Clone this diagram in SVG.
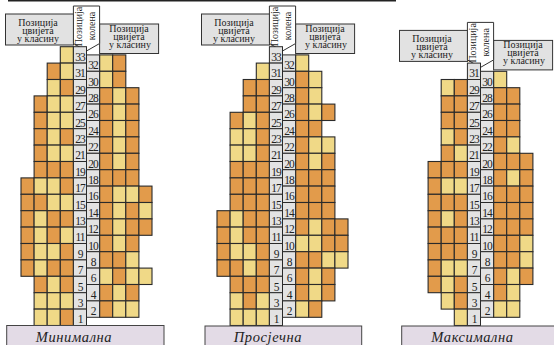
<svg xmlns="http://www.w3.org/2000/svg" xmlns:xlink="http://www.w3.org/1999/xlink" width="554" height="345" viewBox="0 0 554 345">
<style>
.num{font-family:"Liberation Serif",serif;font-size:11.5px;text-anchor:middle;fill:#222;letter-spacing:-1px}
.lbl{font-family:"Liberation Serif",serif;font-size:10px;text-anchor:middle;fill:#222}
.box{fill:#e2e2e2;stroke:#333;stroke-width:1}
.pent{fill:#fff;stroke:#333;stroke-width:1}
.bot{fill:#e3dbe6;stroke:#444;stroke-width:1}
.title{font-family:"Liberation Serif",serif;font-style:italic;font-size:14.5px;text-anchor:middle;fill:#222;letter-spacing:0.6px}
</style>
<defs>
<rect id="o" width="13.1" height="16.4" fill="#e29b4b" stroke="#2a2a2a" stroke-width="1.1"/>
<rect id="y" width="13.1" height="16.4" fill="#f0d987" stroke="#2a2a2a" stroke-width="1.1"/>
<rect id="n" width="13.1" height="16.4" fill="#e3e3e3" stroke="#2a2a2a" stroke-width="1"/>
<g id="hdr">
<rect class="box" x="5.5" y="14" width="68" height="31"/>
<rect class="box" x="99.6" y="24" width="59" height="29.5"/>
<polygon class="pent" points="73.4,6 99.6,6 99.6,43.5 86.5,51 73.4,43.5"/>
<text class="lbl" x="38" y="26">Позиција</text>
<text class="lbl" x="38" y="33.6">цвијета</text>
<text class="lbl" x="38" y="41.5">у класину</text>
<text class="lbl" x="129" y="32">Позиција</text>
<text class="lbl" x="129" y="39.6">цвијета</text>
<text class="lbl" x="130" y="47.5">у класину</text>
<text class="lbl" transform="translate(82.2,26.5) rotate(-90)">Позиција</text>
<text class="lbl" transform="translate(94.5,26) rotate(-90)">колена</text>
</g>
</defs>
<rect x="8" y="0" width="388" height="1.5" fill="#222"/>

<g id="panel-min">
<use xlink:href="#hdr"/>
<g id="cells-min">
<use xlink:href="#y" x="60.3" y="46.7"/>
<use xlink:href="#o" x="47.2" y="63.1"/><use xlink:href="#y" x="60.3" y="63.1"/>
<use xlink:href="#y" x="47.2" y="79.5"/><use xlink:href="#o" x="60.3" y="79.5"/>
<use xlink:href="#o" x="34.1" y="95.9"/><use xlink:href="#y" x="47.2" y="95.9"/><use xlink:href="#y" x="60.3" y="95.9"/>
<use xlink:href="#o" x="34.1" y="112.3"/><use xlink:href="#y" x="47.2" y="112.3"/><use xlink:href="#y" x="60.3" y="112.3"/>
<use xlink:href="#o" x="34.1" y="128.7"/><use xlink:href="#y" x="47.2" y="128.7"/><use xlink:href="#o" x="60.3" y="128.7"/>
<use xlink:href="#o" x="34.1" y="145.1"/><use xlink:href="#y" x="47.2" y="145.1"/><use xlink:href="#y" x="60.3" y="145.1"/>
<use xlink:href="#o" x="34.1" y="161.5"/><use xlink:href="#o" x="47.2" y="161.5"/><use xlink:href="#o" x="60.3" y="161.5"/>
<use xlink:href="#o" x="21" y="177.9"/><use xlink:href="#y" x="34.1" y="177.9"/><use xlink:href="#y" x="47.2" y="177.9"/><use xlink:href="#o" x="60.3" y="177.9"/>
<use xlink:href="#o" x="21" y="194.3"/><use xlink:href="#o" x="34.1" y="194.3"/><use xlink:href="#y" x="47.2" y="194.3"/><use xlink:href="#y" x="60.3" y="194.3"/>
<use xlink:href="#o" x="21" y="210.7"/><use xlink:href="#y" x="34.1" y="210.7"/><use xlink:href="#o" x="47.2" y="210.7"/><use xlink:href="#o" x="60.3" y="210.7"/>
<use xlink:href="#o" x="21" y="227.1"/><use xlink:href="#y" x="34.1" y="227.1"/><use xlink:href="#o" x="47.2" y="227.1"/><use xlink:href="#y" x="60.3" y="227.1"/>
<use xlink:href="#o" x="21" y="243.5"/><use xlink:href="#y" x="34.1" y="243.5"/><use xlink:href="#y" x="47.2" y="243.5"/><use xlink:href="#o" x="60.3" y="243.5"/>
<use xlink:href="#o" x="21" y="259.9"/><use xlink:href="#y" x="34.1" y="259.9"/><use xlink:href="#o" x="47.2" y="259.9"/><use xlink:href="#o" x="60.3" y="259.9"/>
<use xlink:href="#o" x="34.1" y="276.3"/><use xlink:href="#y" x="47.2" y="276.3"/><use xlink:href="#o" x="60.3" y="276.3"/>
<use xlink:href="#y" x="34.1" y="292.7"/><use xlink:href="#y" x="47.2" y="292.7"/><use xlink:href="#y" x="60.3" y="292.7"/>
<use xlink:href="#y" x="34.1" y="309.1"/><use xlink:href="#y" x="47.2" y="309.1"/><use xlink:href="#o" x="60.3" y="309.1"/>

<use xlink:href="#y" x="99.6" y="54.9"/><use xlink:href="#o" x="112.7" y="54.9"/>
<use xlink:href="#y" x="99.6" y="71.3"/><use xlink:href="#o" x="112.7" y="71.3"/>
<use xlink:href="#o" x="99.6" y="87.7"/><use xlink:href="#y" x="112.7" y="87.7"/><use xlink:href="#o" x="125.8" y="87.7"/>
<use xlink:href="#o" x="99.6" y="104.1"/><use xlink:href="#y" x="112.7" y="104.1"/><use xlink:href="#o" x="125.8" y="104.1"/>
<use xlink:href="#o" x="99.6" y="120.5"/><use xlink:href="#y" x="112.7" y="120.5"/><use xlink:href="#o" x="125.8" y="120.5"/>
<use xlink:href="#o" x="99.6" y="136.9"/><use xlink:href="#y" x="112.7" y="136.9"/><use xlink:href="#o" x="125.8" y="136.9"/>
<use xlink:href="#o" x="99.6" y="153.3"/><use xlink:href="#y" x="112.7" y="153.3"/><use xlink:href="#o" x="125.8" y="153.3"/>
<use xlink:href="#o" x="99.6" y="169.7"/><use xlink:href="#o" x="112.7" y="169.7"/><use xlink:href="#o" x="125.8" y="169.7"/>
<use xlink:href="#o" x="99.6" y="186.1"/><use xlink:href="#y" x="112.7" y="186.1"/><use xlink:href="#y" x="125.8" y="186.1"/><use xlink:href="#o" x="138.9" y="186.1"/>
<use xlink:href="#o" x="99.6" y="202.5"/><use xlink:href="#y" x="112.7" y="202.5"/><use xlink:href="#o" x="125.8" y="202.5"/><use xlink:href="#y" x="138.9" y="202.5"/>
<use xlink:href="#o" x="99.6" y="218.9"/><use xlink:href="#y" x="112.7" y="218.9"/><use xlink:href="#o" x="125.8" y="218.9"/><use xlink:href="#o" x="138.9" y="218.9"/>
<use xlink:href="#o" x="99.6" y="235.3"/><use xlink:href="#y" x="112.7" y="235.3"/><use xlink:href="#o" x="125.8" y="235.3"/>
<use xlink:href="#o" x="99.6" y="251.7"/><use xlink:href="#o" x="112.7" y="251.7"/><use xlink:href="#y" x="125.8" y="251.7"/>
<use xlink:href="#y" x="99.6" y="268.1"/><use xlink:href="#o" x="112.7" y="268.1"/><use xlink:href="#y" x="125.8" y="268.1"/><use xlink:href="#y" x="138.9" y="268.1"/>
<use xlink:href="#o" x="99.6" y="284.5"/><use xlink:href="#y" x="112.7" y="284.5"/><use xlink:href="#o" x="125.8" y="284.5"/>
<use xlink:href="#o" x="99.6" y="300.9"/><use xlink:href="#y" x="112.7" y="300.9"/><use xlink:href="#y" x="125.8" y="300.9"/>
</g>
<g id="numcol-min">
<use xlink:href="#n" x="73.4" y="46.7"/><use xlink:href="#n" x="73.4" y="63.1"/><use xlink:href="#n" x="73.4" y="79.5"/><use xlink:href="#n" x="73.4" y="95.9"/><use xlink:href="#n" x="73.4" y="112.3"/><use xlink:href="#n" x="73.4" y="128.7"/><use xlink:href="#n" x="73.4" y="145.1"/><use xlink:href="#n" x="73.4" y="161.5"/><use xlink:href="#n" x="73.4" y="177.9"/><use xlink:href="#n" x="73.4" y="194.3"/><use xlink:href="#n" x="73.4" y="210.7"/><use xlink:href="#n" x="73.4" y="227.1"/><use xlink:href="#n" x="73.4" y="243.5"/><use xlink:href="#n" x="73.4" y="259.9"/><use xlink:href="#n" x="73.4" y="276.3"/><use xlink:href="#n" x="73.4" y="292.7"/><use xlink:href="#n" x="73.4" y="309.1"/>
<use xlink:href="#n" x="86.5" y="54.9"/><use xlink:href="#n" x="86.5" y="71.3"/><use xlink:href="#n" x="86.5" y="87.7"/><use xlink:href="#n" x="86.5" y="104.1"/><use xlink:href="#n" x="86.5" y="120.5"/><use xlink:href="#n" x="86.5" y="136.9"/><use xlink:href="#n" x="86.5" y="153.3"/><use xlink:href="#n" x="86.5" y="169.7"/><use xlink:href="#n" x="86.5" y="186.1"/><use xlink:href="#n" x="86.5" y="202.5"/><use xlink:href="#n" x="86.5" y="218.9"/><use xlink:href="#n" x="86.5" y="235.3"/><use xlink:href="#n" x="86.5" y="251.7"/><use xlink:href="#n" x="86.5" y="268.1"/><use xlink:href="#n" x="86.5" y="284.5"/><use xlink:href="#n" x="86.5" y="300.9"/>
<text class="num" x="80" y="60.9">33</text><text class="num" x="80" y="77.3">31</text><text class="num" x="80" y="93.7">29</text><text class="num" x="80" y="110.1">27</text><text class="num" x="80" y="126.5">25</text><text class="num" x="80" y="142.9">23</text><text class="num" x="80" y="159.3">21</text><text class="num" x="80" y="175.7">19</text><text class="num" x="80" y="192.1">17</text><text class="num" x="80" y="208.5">15</text><text class="num" x="80" y="224.9">13</text><text class="num" x="80" y="241.3">11</text><text class="num" x="80" y="257.7">9</text><text class="num" x="80" y="274.1">7</text><text class="num" x="80" y="290.5">5</text><text class="num" x="80" y="306.9">3</text><text class="num" x="80" y="323.3">1</text>
<text class="num" x="93" y="69.1">32</text><text class="num" x="93" y="85.5">30</text><text class="num" x="93" y="101.9">28</text><text class="num" x="93" y="118.3">26</text><text class="num" x="93" y="134.7">24</text><text class="num" x="93" y="151.1">22</text><text class="num" x="93" y="167.5">20</text><text class="num" x="93" y="183.9">18</text><text class="num" x="93" y="200.3">16</text><text class="num" x="93" y="216.7">14</text><text class="num" x="93" y="233.1">12</text><text class="num" x="93" y="249.5">10</text><text class="num" x="93" y="265.9">8</text><text class="num" x="93" y="282.3">6</text><text class="num" x="93" y="298.7">4</text><text class="num" x="93" y="315.1">2</text>
</g>
<rect class="bot" x="6.7" y="325.5" width="157.3" height="25"/>
<text class="title" x="74" y="341.5">Минимална</text>
</g>

<g id="panel-avg" transform="translate(196,0)">
<use xlink:href="#hdr"/>
<g id="cells-avg">
<use xlink:href="#y" x="60.3" y="63.1"/>
<use xlink:href="#o" x="47.2" y="79.5"/><use xlink:href="#o" x="60.3" y="79.5"/>
<use xlink:href="#o" x="47.2" y="95.9"/><use xlink:href="#o" x="60.3" y="95.9"/>
<use xlink:href="#o" x="34.1" y="112.3"/><use xlink:href="#y" x="47.2" y="112.3"/><use xlink:href="#o" x="60.3" y="112.3"/>
<use xlink:href="#y" x="34.1" y="128.7"/><use xlink:href="#y" x="47.2" y="128.7"/><use xlink:href="#o" x="60.3" y="128.7"/>
<use xlink:href="#y" x="34.1" y="145.1"/><use xlink:href="#y" x="47.2" y="145.1"/><use xlink:href="#o" x="60.3" y="145.1"/>
<use xlink:href="#o" x="34.1" y="161.5"/><use xlink:href="#o" x="47.2" y="161.5"/><use xlink:href="#o" x="60.3" y="161.5"/>
<use xlink:href="#o" x="34.1" y="177.9"/><use xlink:href="#o" x="47.2" y="177.9"/><use xlink:href="#o" x="60.3" y="177.9"/>
<use xlink:href="#o" x="34.1" y="194.3"/><use xlink:href="#o" x="47.2" y="194.3"/><use xlink:href="#o" x="60.3" y="194.3"/>
<use xlink:href="#o" x="21" y="210.7"/><use xlink:href="#y" x="34.1" y="210.7"/><use xlink:href="#o" x="47.2" y="210.7"/><use xlink:href="#o" x="60.3" y="210.7"/>
<use xlink:href="#o" x="21" y="227.1"/><use xlink:href="#y" x="34.1" y="227.1"/><use xlink:href="#o" x="47.2" y="227.1"/><use xlink:href="#o" x="60.3" y="227.1"/>
<use xlink:href="#o" x="21" y="243.5"/><use xlink:href="#y" x="34.1" y="243.5"/><use xlink:href="#y" x="47.2" y="243.5"/><use xlink:href="#o" x="60.3" y="243.5"/>
<use xlink:href="#o" x="21" y="259.9"/><use xlink:href="#o" x="34.1" y="259.9"/><use xlink:href="#y" x="47.2" y="259.9"/><use xlink:href="#o" x="60.3" y="259.9"/>
<use xlink:href="#o" x="34.1" y="276.3"/><use xlink:href="#o" x="47.2" y="276.3"/><use xlink:href="#o" x="60.3" y="276.3"/>
<use xlink:href="#y" x="34.1" y="292.7"/><use xlink:href="#o" x="47.2" y="292.7"/><use xlink:href="#y" x="60.3" y="292.7"/>
<use xlink:href="#y" x="34.1" y="309.1"/><use xlink:href="#y" x="47.2" y="309.1"/><use xlink:href="#y" x="60.3" y="309.1"/>

<use xlink:href="#y" x="99.6" y="54.9"/>
<use xlink:href="#o" x="99.6" y="71.3"/><use xlink:href="#y" x="112.7" y="71.3"/>
<use xlink:href="#o" x="99.6" y="87.7"/><use xlink:href="#y" x="112.7" y="87.7"/>
<use xlink:href="#o" x="99.6" y="104.1"/><use xlink:href="#y" x="112.7" y="104.1"/><use xlink:href="#o" x="125.8" y="104.1"/>
<use xlink:href="#o" x="99.6" y="120.5"/><use xlink:href="#o" x="112.7" y="120.5"/>
<use xlink:href="#o" x="99.6" y="136.9"/><use xlink:href="#y" x="112.7" y="136.9"/><use xlink:href="#y" x="125.8" y="136.9"/>
<use xlink:href="#o" x="99.6" y="153.3"/><use xlink:href="#y" x="112.7" y="153.3"/><use xlink:href="#o" x="125.8" y="153.3"/>
<use xlink:href="#o" x="99.6" y="169.7"/><use xlink:href="#o" x="112.7" y="169.7"/><use xlink:href="#o" x="125.8" y="169.7"/>
<use xlink:href="#o" x="99.6" y="186.1"/><use xlink:href="#o" x="112.7" y="186.1"/><use xlink:href="#o" x="125.8" y="186.1"/>
<use xlink:href="#o" x="99.6" y="202.5"/><use xlink:href="#o" x="112.7" y="202.5"/><use xlink:href="#o" x="125.8" y="202.5"/>
<use xlink:href="#o" x="99.6" y="218.9"/><use xlink:href="#y" x="112.7" y="218.9"/><use xlink:href="#o" x="125.8" y="218.9"/><use xlink:href="#o" x="138.9" y="218.9"/>
<use xlink:href="#y" x="99.6" y="235.3"/><use xlink:href="#y" x="112.7" y="235.3"/><use xlink:href="#o" x="125.8" y="235.3"/><use xlink:href="#o" x="138.9" y="235.3"/>
<use xlink:href="#o" x="99.6" y="251.7"/><use xlink:href="#o" x="112.7" y="251.7"/><use xlink:href="#y" x="125.8" y="251.7"/><use xlink:href="#y" x="138.9" y="251.7"/>
<use xlink:href="#o" x="99.6" y="268.1"/><use xlink:href="#y" x="112.7" y="268.1"/><use xlink:href="#o" x="125.8" y="268.1"/>
<use xlink:href="#o" x="99.6" y="284.5"/><use xlink:href="#y" x="112.7" y="284.5"/><use xlink:href="#o" x="125.8" y="284.5"/>
<use xlink:href="#y" x="99.6" y="300.9"/><use xlink:href="#o" x="112.7" y="300.9"/>
</g>
<g id="numcol-avg">
<use xlink:href="#n" x="73.4" y="46.7"/><use xlink:href="#n" x="73.4" y="63.1"/><use xlink:href="#n" x="73.4" y="79.5"/><use xlink:href="#n" x="73.4" y="95.9"/><use xlink:href="#n" x="73.4" y="112.3"/><use xlink:href="#n" x="73.4" y="128.7"/><use xlink:href="#n" x="73.4" y="145.1"/><use xlink:href="#n" x="73.4" y="161.5"/><use xlink:href="#n" x="73.4" y="177.9"/><use xlink:href="#n" x="73.4" y="194.3"/><use xlink:href="#n" x="73.4" y="210.7"/><use xlink:href="#n" x="73.4" y="227.1"/><use xlink:href="#n" x="73.4" y="243.5"/><use xlink:href="#n" x="73.4" y="259.9"/><use xlink:href="#n" x="73.4" y="276.3"/><use xlink:href="#n" x="73.4" y="292.7"/><use xlink:href="#n" x="73.4" y="309.1"/>
<use xlink:href="#n" x="86.5" y="54.9"/><use xlink:href="#n" x="86.5" y="71.3"/><use xlink:href="#n" x="86.5" y="87.7"/><use xlink:href="#n" x="86.5" y="104.1"/><use xlink:href="#n" x="86.5" y="120.5"/><use xlink:href="#n" x="86.5" y="136.9"/><use xlink:href="#n" x="86.5" y="153.3"/><use xlink:href="#n" x="86.5" y="169.7"/><use xlink:href="#n" x="86.5" y="186.1"/><use xlink:href="#n" x="86.5" y="202.5"/><use xlink:href="#n" x="86.5" y="218.9"/><use xlink:href="#n" x="86.5" y="235.3"/><use xlink:href="#n" x="86.5" y="251.7"/><use xlink:href="#n" x="86.5" y="268.1"/><use xlink:href="#n" x="86.5" y="284.5"/><use xlink:href="#n" x="86.5" y="300.9"/>
<text class="num" x="80" y="60.9">33</text><text class="num" x="80" y="77.3">31</text><text class="num" x="80" y="93.7">29</text><text class="num" x="80" y="110.1">27</text><text class="num" x="80" y="126.5">25</text><text class="num" x="80" y="142.9">23</text><text class="num" x="80" y="159.3">21</text><text class="num" x="80" y="175.7">19</text><text class="num" x="80" y="192.1">17</text><text class="num" x="80" y="208.5">15</text><text class="num" x="80" y="224.9">13</text><text class="num" x="80" y="241.3">11</text><text class="num" x="80" y="257.7">9</text><text class="num" x="80" y="274.1">7</text><text class="num" x="80" y="290.5">5</text><text class="num" x="80" y="306.9">3</text><text class="num" x="80" y="323.3">1</text>
<text class="num" x="93" y="69.1">32</text><text class="num" x="93" y="85.5">30</text><text class="num" x="93" y="101.9">28</text><text class="num" x="93" y="118.3">26</text><text class="num" x="93" y="134.7">24</text><text class="num" x="93" y="151.1">22</text><text class="num" x="93" y="167.5">20</text><text class="num" x="93" y="183.9">18</text><text class="num" x="93" y="200.3">16</text><text class="num" x="93" y="216.7">14</text><text class="num" x="93" y="233.1">12</text><text class="num" x="93" y="249.5">10</text><text class="num" x="93" y="265.9">8</text><text class="num" x="93" y="282.3">6</text><text class="num" x="93" y="298.7">4</text><text class="num" x="93" y="315.1">2</text>
</g>
<rect class="bot" x="9" y="326" width="156.7" height="25"/>
<text class="title" x="72" y="341.5">Просјечна</text>
</g>

<g id="panel-max" transform="translate(394,0)">
<use xlink:href="#hdr" y="16.4"/>
<g id="cells-max">
<use xlink:href="#y" x="47.2" y="79.5"/><use xlink:href="#o" x="60.3" y="79.5"/>
<use xlink:href="#o" x="47.2" y="95.9"/><use xlink:href="#o" x="60.3" y="95.9"/>
<use xlink:href="#o" x="47.2" y="112.3"/><use xlink:href="#o" x="60.3" y="112.3"/>
<use xlink:href="#y" x="47.2" y="128.7"/><use xlink:href="#o" x="60.3" y="128.7"/>
<use xlink:href="#o" x="47.2" y="145.1"/><use xlink:href="#y" x="60.3" y="145.1"/>
<use xlink:href="#o" x="34.1" y="161.5"/><use xlink:href="#o" x="47.2" y="161.5"/><use xlink:href="#o" x="60.3" y="161.5"/>
<use xlink:href="#o" x="34.1" y="177.9"/><use xlink:href="#y" x="47.2" y="177.9"/><use xlink:href="#y" x="60.3" y="177.9"/>
<use xlink:href="#o" x="34.1" y="194.3"/><use xlink:href="#o" x="47.2" y="194.3"/><use xlink:href="#o" x="60.3" y="194.3"/>
<use xlink:href="#o" x="34.1" y="210.7"/><use xlink:href="#y" x="47.2" y="210.7"/><use xlink:href="#o" x="60.3" y="210.7"/>
<use xlink:href="#o" x="34.1" y="227.1"/><use xlink:href="#o" x="47.2" y="227.1"/><use xlink:href="#o" x="60.3" y="227.1"/>
<use xlink:href="#o" x="34.1" y="243.5"/><use xlink:href="#o" x="47.2" y="243.5"/><use xlink:href="#o" x="60.3" y="243.5"/>
<use xlink:href="#o" x="34.1" y="259.9"/><use xlink:href="#y" x="47.2" y="259.9"/><use xlink:href="#y" x="60.3" y="259.9"/>
<use xlink:href="#o" x="34.1" y="276.3"/><use xlink:href="#y" x="47.2" y="276.3"/><use xlink:href="#o" x="60.3" y="276.3"/>
<use xlink:href="#y" x="47.2" y="292.7"/><use xlink:href="#o" x="60.3" y="292.7"/>
<use xlink:href="#y" x="60.3" y="309.1"/>

<use xlink:href="#y" x="99.6" y="71.3"/>
<use xlink:href="#o" x="99.6" y="87.7"/><use xlink:href="#o" x="112.7" y="87.7"/>
<use xlink:href="#o" x="99.6" y="104.1"/><use xlink:href="#o" x="112.7" y="104.1"/>
<use xlink:href="#o" x="99.6" y="120.5"/><use xlink:href="#o" x="112.7" y="120.5"/>
<use xlink:href="#o" x="99.6" y="136.9"/><use xlink:href="#y" x="112.7" y="136.9"/>
<use xlink:href="#o" x="99.6" y="153.3"/><use xlink:href="#o" x="112.7" y="153.3"/><use xlink:href="#o" x="125.8" y="153.3"/>
<use xlink:href="#o" x="99.6" y="169.7"/><use xlink:href="#y" x="112.7" y="169.7"/><use xlink:href="#o" x="125.8" y="169.7"/>
<use xlink:href="#o" x="99.6" y="186.1"/><use xlink:href="#o" x="112.7" y="186.1"/><use xlink:href="#o" x="125.8" y="186.1"/>
<use xlink:href="#o" x="99.6" y="202.5"/><use xlink:href="#o" x="112.7" y="202.5"/><use xlink:href="#o" x="125.8" y="202.5"/>
<use xlink:href="#o" x="99.6" y="218.9"/><use xlink:href="#o" x="112.7" y="218.9"/><use xlink:href="#o" x="125.8" y="218.9"/>
<use xlink:href="#o" x="99.6" y="235.3"/><use xlink:href="#o" x="112.7" y="235.3"/><use xlink:href="#y" x="125.8" y="235.3"/>
<use xlink:href="#o" x="99.6" y="251.7"/><use xlink:href="#o" x="112.7" y="251.7"/><use xlink:href="#y" x="125.8" y="251.7"/>
<use xlink:href="#o" x="99.6" y="268.1"/><use xlink:href="#y" x="112.7" y="268.1"/><use xlink:href="#o" x="125.8" y="268.1"/>
<use xlink:href="#o" x="99.6" y="284.5"/><use xlink:href="#y" x="112.7" y="284.5"/>
<use xlink:href="#y" x="99.6" y="300.9"/><use xlink:href="#y" x="112.7" y="300.9"/>
</g>
<g id="numcol-max">
<use xlink:href="#n" x="73.4" y="63.1"/><use xlink:href="#n" x="73.4" y="79.5"/><use xlink:href="#n" x="73.4" y="95.9"/><use xlink:href="#n" x="73.4" y="112.3"/><use xlink:href="#n" x="73.4" y="128.7"/><use xlink:href="#n" x="73.4" y="145.1"/><use xlink:href="#n" x="73.4" y="161.5"/><use xlink:href="#n" x="73.4" y="177.9"/><use xlink:href="#n" x="73.4" y="194.3"/><use xlink:href="#n" x="73.4" y="210.7"/><use xlink:href="#n" x="73.4" y="227.1"/><use xlink:href="#n" x="73.4" y="243.5"/><use xlink:href="#n" x="73.4" y="259.9"/><use xlink:href="#n" x="73.4" y="276.3"/><use xlink:href="#n" x="73.4" y="292.7"/><use xlink:href="#n" x="73.4" y="309.1"/>
<use xlink:href="#n" x="86.5" y="71.3"/><use xlink:href="#n" x="86.5" y="87.7"/><use xlink:href="#n" x="86.5" y="104.1"/><use xlink:href="#n" x="86.5" y="120.5"/><use xlink:href="#n" x="86.5" y="136.9"/><use xlink:href="#n" x="86.5" y="153.3"/><use xlink:href="#n" x="86.5" y="169.7"/><use xlink:href="#n" x="86.5" y="186.1"/><use xlink:href="#n" x="86.5" y="202.5"/><use xlink:href="#n" x="86.5" y="218.9"/><use xlink:href="#n" x="86.5" y="235.3"/><use xlink:href="#n" x="86.5" y="251.7"/><use xlink:href="#n" x="86.5" y="268.1"/><use xlink:href="#n" x="86.5" y="284.5"/><use xlink:href="#n" x="86.5" y="300.9"/>
<text class="num" x="80" y="77.3">31</text><text class="num" x="80" y="93.7">29</text><text class="num" x="80" y="110.1">27</text><text class="num" x="80" y="126.5">25</text><text class="num" x="80" y="142.9">23</text><text class="num" x="80" y="159.3">21</text><text class="num" x="80" y="175.7">19</text><text class="num" x="80" y="192.1">17</text><text class="num" x="80" y="208.5">15</text><text class="num" x="80" y="224.9">13</text><text class="num" x="80" y="241.3">11</text><text class="num" x="80" y="257.7">9</text><text class="num" x="80" y="274.1">7</text><text class="num" x="80" y="290.5">5</text><text class="num" x="80" y="306.9">3</text><text class="num" x="80" y="323.3">1</text>
<text class="num" x="93" y="85.5">30</text><text class="num" x="93" y="101.9">28</text><text class="num" x="93" y="118.3">26</text><text class="num" x="93" y="134.7">24</text><text class="num" x="93" y="151.1">22</text><text class="num" x="93" y="167.5">20</text><text class="num" x="93" y="183.9">18</text><text class="num" x="93" y="200.3">16</text><text class="num" x="93" y="216.7">14</text><text class="num" x="93" y="233.1">12</text><text class="num" x="93" y="249.5">10</text><text class="num" x="93" y="265.9">8</text><text class="num" x="93" y="282.3">6</text><text class="num" x="93" y="298.7">4</text><text class="num" x="93" y="315.1">2</text>
</g>
<rect class="bot" x="7.7" y="326" width="165" height="25"/>
<text class="title" x="78.5" y="341.5">Максимална</text>
</g>
</svg>
